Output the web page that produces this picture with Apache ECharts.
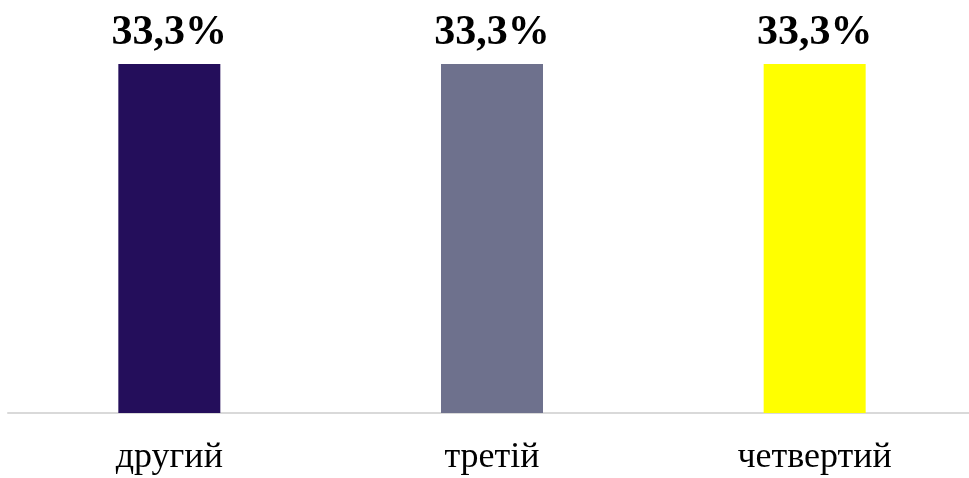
<!DOCTYPE html>
<html>
<head>
<meta charset="utf-8">
<script src="https://cdn.jsdelivr.net/npm/echarts@6/dist/echarts.min.js"></script>
<style>html,body{margin:0;padding:0;background:#fff;overflow:hidden}#c{width:976px;height:478px}</style>
</head>
<body>
<div id="c"></div>
<script>
const categories = ['другий', 'третій', 'четвертий'];
const values = [33.3, 33.3, 33.3];
const colors = ['#240e5b', '#6e718d', '#ffff00'];

const chart = echarts.init(document.getElementById('c'), null, {renderer: 'canvas'});
chart.setOption({
  animation: false,
  grid: {left: 8, right: 0, top: 64, bottom: 65, containLabel: false},
  xAxis: {
    type: 'category',
    data: categories,
    axisLine: {show: true, lineStyle: {color: '#d9d9d9', width: 2}},
    axisTick: {show: false},
    axisLabel: {
      color: '#000',
      fontFamily: 'Liberation Serif, Times New Roman, serif',
      fontSize: 36,
      margin: 27
    }
  },
  yAxis: {
    type: 'value',
    min: 0,
    max: 33.3,
    show: false,
    splitLine: {show: false}
  },
  series: [{
    type: 'bar',
    barWidth: 102,
    data: values.map((v, i) => ({value: v, itemStyle: {color: colors[i]}})),
    label: {
      show: true,
      position: 'top',
      distance: 10,
      color: '#000',
      fontFamily: 'Liberation Serif, Times New Roman, serif',
      fontWeight: 'bold',
      fontSize: 42,
      formatter: p => p.value.toFixed(1).replace('.', ',') + '%'
    }
  }]
});
</script>
</body>
</html>
